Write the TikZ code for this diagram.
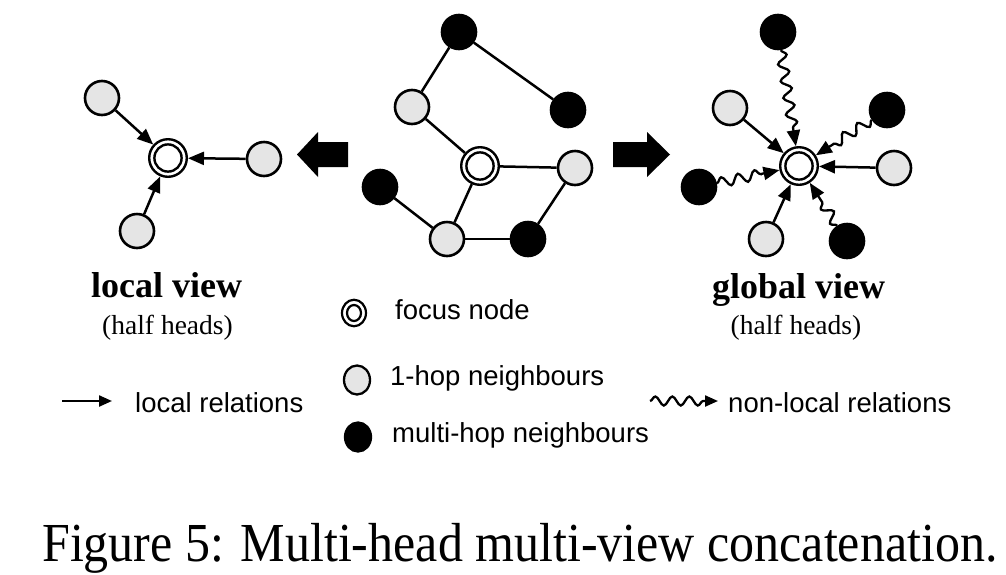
\documentclass[tikz,border=0pt]{standalone}
\usepackage{fontspec}
\setmainfont{Liberation Serif}
\setsansfont{Liberation Sans}
\usetikzlibrary{arrows.meta,decorations.pathmorphing,shapes.geometric}
\begin{document}
\begin{tikzpicture}[x=1pt,y=-1pt,
  nd/.style={circle, draw, line width=2.6pt, minimum size=34pt, inner sep=0pt},
  grayn/.style={nd, fill=gray!20},
  blackn/.style={nd, fill=black},
  focusn/.style={circle, draw, line width=2.4pt, minimum size=37.6pt, inner sep=0pt, fill=white,
    path picture={\draw[line width=2.4pt] (path picture bounding box.center) circle[radius=13.6pt];}},
  rel/.style={line width=2.5pt, -{Triangle[length=16pt,width=13pt]}},
  wavy/.style={line width=2.3pt, -{Triangle[length=16pt,width=13pt]}, decorate,
    decoration={snake, amplitude=5pt, segment length=17pt, post length=15pt}},
  edg/.style={line width=2.5pt},
  blockarrow/.style={fill=black},
  lgray/.style={ellipse, draw, line width=2.3pt, fill=gray!20, minimum width=26pt, minimum height=29pt, inner sep=0pt},
  lblack/.style={ellipse, draw, line width=2.3pt, fill=black, minimum width=26pt, minimum height=29pt, inner sep=0pt},
  lfocus/.style={ellipse, draw, line width=2.2pt, fill=white, minimum width=24pt, minimum height=26.5pt, inner sep=0pt,
    path picture={\draw[line width=2.2pt] (path picture bounding box.center) ellipse[x radius=7pt, y radius=8pt];}},
  legtext/.style={font=\sffamily\fontsize{27.5}{33}\selectfont, anchor=base west, inner sep=0pt},
  viewtitle/.style={font=\rmfamily\bfseries\fontsize{36}{42}\selectfont, anchor=base, inner sep=0pt},
  viewsub/.style={font=\rmfamily\fontsize{27.5}{33}\selectfont, anchor=base, inner sep=0pt}
]
\useasboundingbox (0,0) rectangle (1006,574);

% ---------- local view ----------
\node[focusn] (Lf) at (168,158) {};
\node[grayn] (L1) at (102,98) {};
\node[grayn] (L2) at (264,159) {};
\node[grayn] (L3) at (137,231) {};
\draw[rel] (L1) -- (Lf);
\draw[rel] (L2) -- (Lf);
\draw[rel] (L3) -- (Lf);

% ---------- block arrows ----------
\fill[blockarrow] (297,154.5) -- (318,132) -- (318,142) -- (348,142) -- (348,167) -- (318,167) -- (318,177) -- cycle;
\fill[blockarrow] (670,154.5) -- (647,132) -- (647,142) -- (613,142) -- (613,167) -- (647,167) -- (647,177) -- cycle;

% ---------- middle graph ----------
\node[focusn] (Mf) at (480,166) {};
\node[blackn] (Mb1) at (459,32) {};
\node[grayn] (Mg1) at (412,107) {};
\node[blackn] (Mb2) at (568,110) {};
\node[grayn] (Mg2) at (575,168) {};
\node[blackn] (Mb3) at (380,187) {};
\node[grayn] (Mg3) at (447,239) {};
\node[blackn] (Mb4) at (528,239) {};
\draw[edg] (Mb1) -- (Mg1);
\draw[edg] (Mb1) -- (Mb2);
\draw[edg] (Mg1) -- (Mf);
\draw[edg] (Mf) -- (Mg2);
\draw[edg] (Mf) -- (Mg3);
\draw[edg] (Mb3) -- (Mg3);
\draw[edg] (Mg3) -- (Mb4);
\draw[edg] (Mb4) -- (Mg2);

% ---------- global view ----------
\node[focusn] (Gf) at (799,166) {};
\node[blackn] (Gb1) at (778,32) {};
\node[grayn] (Gg1) at (730,108) {};
\node[blackn] (Gb2) at (887,110) {};
\node[grayn] (Gg2) at (894,168) {};
\node[blackn] (Gb3) at (699,187) {};
\node[grayn] (Gg3) at (766,239) {};
\node[blackn] (Gb4) at (847,241) {};
\draw[wavy] (Gb1) -- (Gf);
\draw[rel] (Gg1) -- (Gf);
\draw[wavy] (Gb2) -- (Gf);
\draw[rel] (Gg2) -- (Gf);
\draw[wavy] (Gb3) -- (Gf);
\draw[rel] (Gg3) -- (Gf);
\draw[wavy] (Gb4) -- (Gf);

% ---------- titles ----------
\node[viewtitle] (lt) at (166.5,297) {local view};
\node[viewsub] (ls) at (167.5,334.5) {(half heads)};
\node[viewtitle] (gt) at (798.5,298) {global view};
\node[viewsub] (gs) at (796,334.5) {(half heads)};

% ---------- legend ----------
\node[lfocus] (kf) at (354,313) {};
\node[legtext] (kft) at (395,319) {focus node};
\node[lgray] (kg) at (357,380) {};
\node[legtext] (kgt) at (390,385) {1-hop neighbours};
\node[lblack] (kb) at (358,437) {};
\node[legtext] (kbt) at (392,442) {multi-hop neighbours};

\coordinate (la) at (62,401);
\coordinate (lb) at (112,401);
\draw[rel, line width=2.3pt, -{Triangle[length=13pt,width=11pt]}] (la) -- (lb);
\node[legtext] (lrt) at (135,412) {local relations};

\coordinate (na) at (650,401);
\coordinate (nb) at (718,401);
\draw[wavy, -{Triangle[length=13pt,width=11pt]}, decoration={snake, amplitude=4.5pt, segment length=17pt, post length=12pt}] (na) -- (nb);
\node[legtext] (nrt) at (728,412) {non-local relations};

% ---------- caption ----------
\node[font=\rmfamily\fontsize{50}{56}\selectfont, anchor=base west, inner sep=0pt] (cap) at (42,561)
  {\scalebox{1}[1.1]{Figure 5: Multi-head multi-view concatenation.}};
\end{tikzpicture}
\end{document}
